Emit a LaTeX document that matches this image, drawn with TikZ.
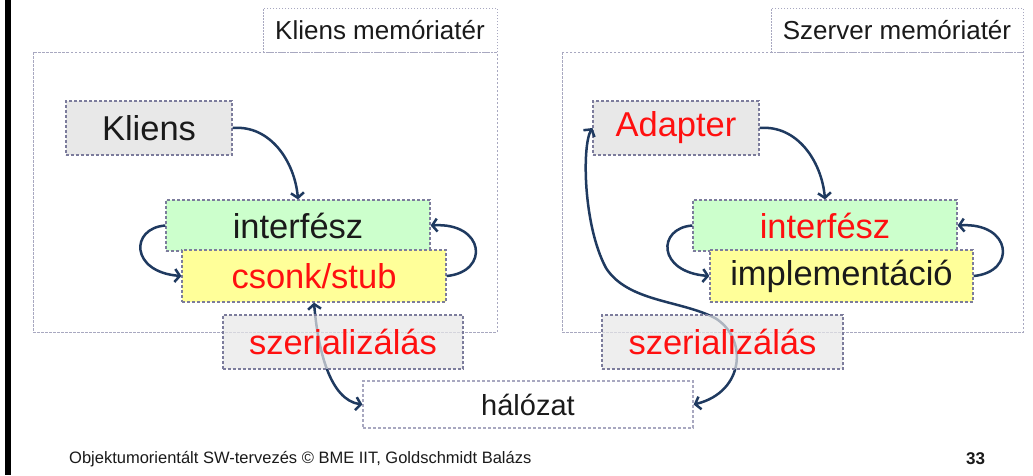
\documentclass[tikz,border=0pt]{standalone}
\usepackage{fontspec}
\setmainfont{Liberation Sans}
\usetikzlibrary{arrows.meta}

\definecolor{linknavy}{HTML}{1F3A60}
\definecolor{edgegray}{HTML}{7C7C9C}
\definecolor{framegray}{HTML}{A8A8C0}
\definecolor{ifgreen}{HTML}{CCFFCC}
\definecolor{stubyellow}{HTML}{FFFF99}
\definecolor{boxgray}{HTML}{E8E8E8}
\definecolor{labelred}{HTML}{FF1010}
\definecolor{inkblack}{HTML}{1A1A1A}

\newcommand{\bigtxt}{\fontsize{34.5}{40}\selectfont}
\newcommand{\tabtxt}{\fontsize{26}{30}\selectfont}

\tikzset{
  frame/.style={draw=framegray, line width=1pt, dash pattern=on 2.5pt off 1.5pt},
  tabbox/.style={draw=framegray, line width=1pt, dash pattern=on 1.5pt off 1.5pt, fill=white,
    inner sep=0pt, text=inkblack, font=\tabtxt},
  part/.style={draw=edgegray, line width=1.2pt, dash pattern=on 3pt off 2pt,
    inner sep=0pt, font=\bigtxt},
  serbox/.style={part, fill=boxgray, fill opacity=0.7, text opacity=1, text=labelred},
  link/.style={draw=linknavy, line width=2.5pt,
    -{Straight Barb[length=5pt,width=13pt]}},
  duplex/.style={link, {Straight Barb[length=5pt,width=13pt]}-{Straight Barb[length=5pt,width=13pt]}}
}

\begin{document}
\begin{tikzpicture}[x=1pt, y=-1pt]
  \useasboundingbox (0,0) rectangle (1033,475);
  \fill[white] (0,0) rectangle (1033,475);
  \fill[black] (5,0) rectangle (11,475);

  % memory spaces with their name tabs
  \draw[frame] (33,52) rectangle (497,332);
  \node[tabbox, minimum width=234pt, minimum height=44pt] (ktab) at (380,30) {Kliens memóriatér};
  \draw[frame] (562,52) rectangle (1023,332);
  \node[tabbox, minimum width=252pt, minimum height=44pt] (stab) at (897,30) {Szerver memóriatér};

  % client side
  \node[part, fill=boxgray, text=inkblack, minimum width=166pt, minimum height=54pt] (kl) at (149,128) {Kliens};
  \node[part, fill=ifgreen, text=inkblack, minimum width=264pt, minimum height=51pt] (kif) at (298,225.5) {interfész};
  \node[part, fill=stubyellow, text=labelred, minimum width=264pt, minimum height=52pt] (stub) at (314,276) {csonk/stub};

  % server side
  \node[part, fill=boxgray, text=labelred, minimum width=166pt, minimum height=54pt] (ad) at (676,128) {Adapter};
  \node[part, fill=ifgreen, text=labelred, minimum width=264pt, minimum height=51pt] (sif) at (825,225.5) {interfész};
  \node[part, fill=stubyellow, text=inkblack, minimum width=263pt, minimum height=52pt] (impl) at (841.5,276) {implementáció};

  % network
  \node[part, draw=framegray, fill=white, text=inkblack, font=\fontsize{29}{34}\selectfont,
        minimum width=330pt, minimum height=47pt] (net) at (528,404.5) {hálózat};

  % calls inside the client
  \draw[link] (kl.east) to[out=5, in=95] (kif.north);
  \draw[link] (kif.west) .. controls (130,228) and (130,272) .. (stub.west);
  \draw[link] (stub.east) .. controls (490,272) and (485,222) .. (kif.east);

  % calls inside the server
  \draw[link] (ad.east) to[out=5, in=95] (sif.north);
  \draw[link] (sif.west) .. controls (657,228) and (657,272) .. (impl.west);
  \draw[link] (impl.east) .. controls (1017,272) and (1012,222) .. (sif.east);

  % traffic over the network
  \draw[duplex] (stub.south) .. controls (318,350) and (330,400) .. (net.west);
  \coordinate (bend1) at (606,268);
  \coordinate (bend2) at (715,318);
  \draw[duplex] (ad.west) .. controls (582,145) and (583,225) .. (bend1)
      .. controls (628,302) and (680,300) .. (bend2)
      .. controls (748,338) and (745,392) .. (net.east);

  % serialisation layers on top of the links
  \node[serbox, minimum width=240pt, minimum height=54pt] (ser1) at (343,342) {szerializálás};
  \node[serbox, minimum width=241pt, minimum height=54pt] (ser2) at (722.5,342) {szerializálás};

  % footer
  \node[anchor=west, inner sep=0pt, text=inkblack, font=\fontsize{16.5}{19}\selectfont] (foot) at (69,459)
    {Objektumorientált SW-tervezés © BME IIT, Goldschmidt Balázs};
  \node[inner sep=0pt, text=inkblack, font=\fontsize{17}{20}\selectfont\bfseries] (page) at (975.5,459) {33};
\end{tikzpicture}
\end{document}
